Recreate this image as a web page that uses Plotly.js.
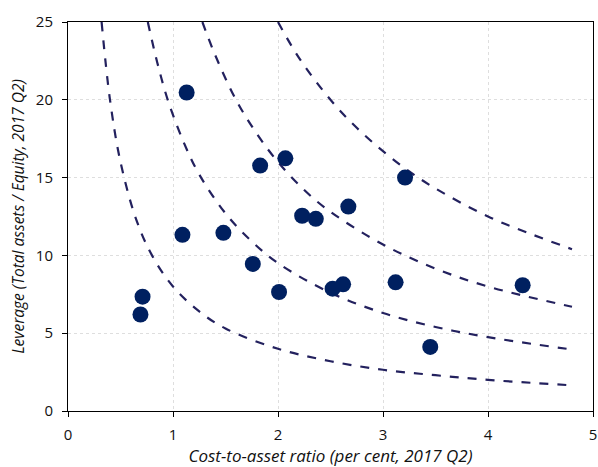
<!DOCTYPE html>
<html>
<head>
<meta charset="utf-8">
<script src="https://cdn.plot.ly/plotly-3.0.1.min.js"></script>
<style>html,body{margin:0;padding:0;background:#fff;}#chart{width:598px;height:467px;}</style>
</head>
<body>
<div id="chart"></div>
<script>
// Scatter points: cost-to-asset ratio vs leverage
const costToAsset = [0.69, 0.71, 1.13, 1.09, 1.48, 1.76, 1.83, 2.07, 2.01, 2.23, 2.36, 2.67, 2.52, 2.62, 3.12, 3.21, 3.45, 4.33];
const leverage    = [6.2, 7.35, 20.47, 11.32, 11.45, 9.45, 15.77, 16.24, 7.65, 12.55, 12.35, 13.14, 7.86, 8.14, 8.27, 15.0, 4.12, 8.08];

// Dashed iso-curves, points
const curve1X = [0.32, 0.4, 0.5, 0.65, 0.8, 1.0, 1.25, 1.5, 2.0, 2.5, 3.0, 3.5, 4.0, 4.8];
const curve1Y = [25, 20, 16, 12.3, 10, 8, 6.4, 5.3, 4.0, 3.2, 2.65, 2.3, 2.0, 1.65];
const curve2X = [0.76, 0.85, 0.95, 1.1, 1.25, 1.5, 1.75, 2.0, 2.5, 3.0, 3.5, 4.0, 4.8];
const curve2Y = [25, 22.4, 20, 17.3, 15.2, 12.7, 10.9, 9.5, 7.6, 6.3, 5.4, 4.75, 3.95];
const curve3X = [1.28, 1.4, 1.6, 1.8, 2.0, 2.25, 2.5, 3.0, 3.5, 4.0, 4.8];
const curve3Y = [25, 22.9, 20, 17.8, 16, 14.2, 12.8, 10.7, 9.15, 8.0, 6.7];
const curve4X = [2.0, 2.2, 2.5, 2.75, 3.0, 3.25, 3.5, 4.0, 4.4, 4.8];
const curve4Y = [25, 22.7, 20, 18.2, 16.7, 15.4, 14.3, 12.5, 11.4, 10.4];

const xTicks = [0, 1, 2, 3, 4, 5];
const yTicks = [0, 5, 10, 15, 20, 25];
const xTitle = 'Cost-to-asset ratio (per cent, 2017 Q2)';
const yTitle = 'Leverage (Total assets / Equity, 2017 Q2)';

const curveColor = '#23215e';
function curve(x, y) {
  return {x: x, y: y, type: 'scatter', mode: 'lines', hoverinfo: 'skip',
    line: {color: curveColor, width: 2.2, dash: 'dash', shape: 'spline', smoothing: 1}};
}
const traces = [
  curve(curve1X, curve1Y), curve(curve2X, curve2Y), curve(curve3X, curve3Y), curve(curve4X, curve4Y),
  {x: costToAsset, y: leverage, type: 'scatter', mode: 'markers',
   marker: {color: '#002060', size: 16, line: {width: 0}}}
];
const font = '"Open Sans", sans-serif';
const layout = {
  width: 598, height: 467,
  margin: {l: 68, r: 5, t: 22, b: 56},
  paper_bgcolor: '#fff', plot_bgcolor: '#fff',
  showlegend: false,
  font: {family: font, size: 14, color: '#000'},
  xaxis: {
    range: [0, 5], tickvals: xTicks, ticktext: xTicks.map(String),
    showgrid: true, gridcolor: '#dedede', griddash: '3px,3px', gridwidth: 1,
    zeroline: false, showline: true, linecolor: '#000', linewidth: 1, mirror: true,
    ticks: 'outside', ticklen: 5, tickcolor: '#000', ticklabelstandoff: 5,
    tickfont: {family: font, size: 15, color: '#111'},
    title: {text: xTitle, font: {family: font, size: 17, color: '#111', style: 'italic'}, standoff: 6}
  },
  yaxis: {
    range: [0, 25], tickvals: yTicks, ticktext: yTicks.map(String),
    showgrid: true, gridcolor: '#dedede', griddash: '3px,3px', gridwidth: 1,
    zeroline: false, showline: true, linecolor: '#000', linewidth: 1, mirror: true,
    ticks: 'outside', ticklen: 5, tickcolor: '#000', ticklabelstandoff: 6,
    tickfont: {family: font, size: 15, color: '#111'},
    title: {text: yTitle, font: {family: font, size: 15.5, color: '#111', style: 'italic'}, standoff: 7}
  }
};
Plotly.newPlot('chart', traces, layout, {displayModeBar: false, staticPlot: true});
</script>
</body>
</html>
